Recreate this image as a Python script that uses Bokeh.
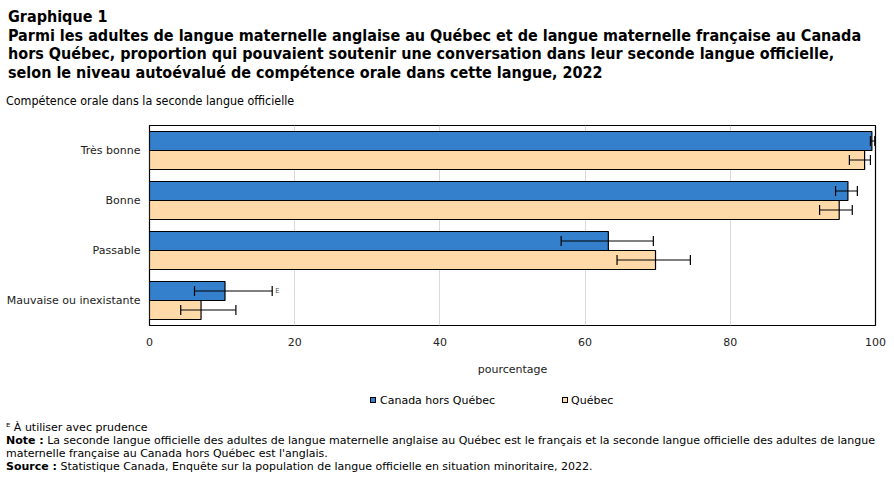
from bokeh.plotting import figure
from bokeh.models import (ColumnDataSource, Label, Whisker, FixedTicker, Range1d, Div)
from bokeh.layouts import column
from bokeh.embed import file_html
from bokeh.resources import INLINE

categories = ["Très bonne", "Bonne", "Passable", "Mauvaise ou inexistante"]
canada = [99.5, 96.2, 63.2, 10.4]
canada_lo = [99.3, 94.5, 56.7, 6.2]
canada_hi = [99.9, 97.5, 69.4, 16.9]
quebec = [98.5, 95.0, 69.7, 7.1]
quebec_lo = [96.4, 92.3, 64.4, 4.3]
quebec_hi = [99.3, 96.8, 74.5, 11.9]
x_ticks = [0, 20, 40, 60, 80, 100]
series_names = ["Canada hors Québec", "Québec"]
series_colors = ["#3580cd", "#ffdaa9"]

title_lines = ["Graphique 1",
               "Parmi les adultes de langue maternelle anglaise au Québec et de langue maternelle française au Canada",
               "hors Québec, proportion qui pouvaient soutenir une conversation dans leur seconde langue officielle,",
               "selon le niveau autoévalué de compétence orale dans cette langue, 2022"]
axis_title = "Compétence orale dans la seconde langue officielle"
x_label = "pourcentage"
notes = [("", "ᴱ À utiliser avec prudence"),
         ("Note :", "La seconde langue officielle des adultes de langue maternelle anglaise au Québec est le français et la seconde langue officielle des adultes de langue"),
         ("", "maternelle française au Canada hors Québec est l'anglais."),
         ("Source :", "Statistique Canada, Enquête sur la population de langue officielle en situation minoritaire, 2022.")]

W = 894
TOP_H, FIG_H, BOT_H = 110, 275, 94
FL, FR = 149, 875

COND = "'DejaVu Sans Condensed','Liberation Sans Narrow','DejaVu Sans',sans-serif"
PLAIN = "'DejaVu Sans',sans-serif"

def span(x, y_center, html, size, bold=False, lh=16, font=None):
    f = f"font-family:{font};" if font else ""
    return (f"<div style=\"position:absolute;left:{x}px;top:{y_center - lh/2}px;{f}"
            f"line-height:{lh}px;font-size:{size}px;white-space:nowrap;"
            f"font-weight:{'bold' if bold else 'normal'};color:#000;\">{html}</div>")

top_html = "".join(span(8, 17 + i * 18.5, t, 16, True, lh=18) for i, t in enumerate(title_lines))
top_html += span(6, 101, axis_title, 12.4)
div_top = Div(text=f"<div style=\"position:relative;width:{W}px;height:{TOP_H}px;font-family:{COND};\">{top_html}</div>",
              width=W, height=TOP_H, margin=(0, 0, 0, 0))

y0 = TOP_H + FIG_H

def swatch(x, yc, color):
    return (f"<div style=\"position:absolute;left:{x}px;top:{yc - 4}px;width:6px;height:6px;"
            f"background:{color};border:1px solid #000;\"></div>")

leg_y = 401 - y0
bot_html = (swatch(370, leg_y, series_colors[0]) + span(380, leg_y, series_names[0], 11, font=PLAIN)
            + swatch(562, leg_y, series_colors[1]) + span(571, leg_y, series_names[1], 11, font=PLAIN))
for (b, t), yc in zip(notes, [427, 440, 453, 466]):
    html = (f"<b>{b}</b> " if b else "") + t
    bot_html += span(6, yc - y0, html, 11, lh=13, font=PLAIN)
div_bot = Div(text=f"<div style=\"position:relative;width:{W}px;height:{BOT_H}px;font-family:{COND};\">{bot_html}</div>",
              width=W, height=BOT_H, margin=(0, 0, 0, 0))

n = len(categories)
pos = [n - 1 - i for i in range(n)]
off = 0.19
bh = 0.38

p = figure(width=W, height=FIG_H, output_backend="svg", toolbar_location=None,
           x_range=Range1d(0, 100), y_range=Range1d(-0.5, n - 0.5),
           min_border_left=FL, min_border_right=W - FR,
           min_border_top=15, min_border_bottom=60, margin=(0, 0, 0, 0))
p.outline_line_color = "black"
p.outline_line_width = 1.2

src_c = ColumnDataSource(dict(y=[v + off for v in pos], x=canada, lo=canada_lo, hi=canada_hi))
src_q = ColumnDataSource(dict(y=[v - off for v in pos], x=quebec, lo=quebec_lo, hi=quebec_hi))

rc = p.hbar(y="y", right="x", left=0, height=bh, source=src_c,
            fill_color=series_colors[0], line_color="black", line_width=1.2)
rq = p.hbar(y="y", right="x", left=0, height=bh, source=src_q,
            fill_color=series_colors[1], line_color="black", line_width=1.2)

for s in (src_c, src_q):
    w = Whisker(base="y", lower="lo", upper="hi", dimension="width", source=s,
                line_color="black", line_width=1.2, level="annotation")
    for h in (w.upper_head, w.lower_head):
        h.size = 10
        h.line_width = 1.2
    p.add_layout(w)

p.xaxis.ticker = FixedTicker(ticks=x_ticks)
p.yaxis.ticker = FixedTicker(ticks=pos)
p.yaxis.major_label_overrides = {pos[i]: categories[i] for i in range(n)}
for ax in (p.xaxis[0], p.yaxis[0]):
    ax.axis_line_color = None
    ax.major_tick_line_color = None
    ax.minor_tick_line_color = None
    ax.major_tick_out = 0
    ax.major_tick_in = 0
    ax.major_label_text_font = "DejaVu Sans"
    ax.major_label_text_font_size = "11px"
    ax.major_label_text_color = "#222222"
p.xaxis.major_label_standoff = 12
p.yaxis.major_label_standoff = 9
p.xaxis.axis_label = x_label
p.xaxis.axis_label_text_font = "DejaVu Sans"
p.xaxis.axis_label_text_font_size = "11px"
p.xaxis.axis_label_text_font_style = "normal"
p.xaxis.axis_label_text_color = "#222222"
p.xaxis.axis_label_standoff = 14
p.xgrid.grid_line_color = "#d9d9d9"
p.ygrid.grid_line_color = None

p.add_layout(Label(x=canada_hi[3], y=pos[3] + off, x_offset=3, text="E",
                   text_font="DejaVu Sans", text_font_size="7px", text_color="#555555",
                   text_baseline="middle"))

layout = column(div_top, p, div_bot, spacing=0, margin=(0, 0, 0, 0))
open("out.html", "w").write(file_html(layout, INLINE))
